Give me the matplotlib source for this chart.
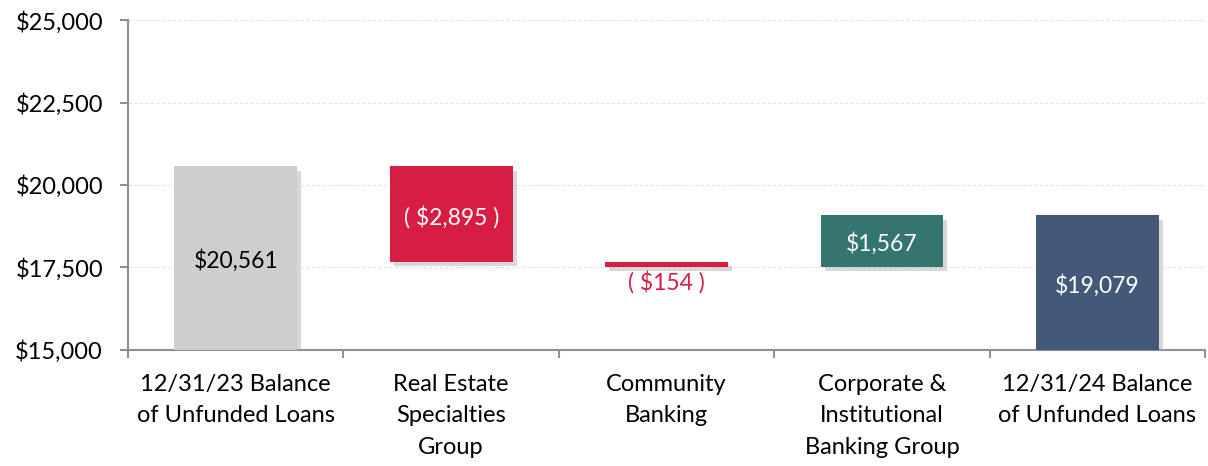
import numpy as np
import matplotlib
matplotlib.use("Agg")
import matplotlib.pyplot as plt
import matplotlib.patheffects as pe
from matplotlib.ticker import FuncFormatter

plt.rcParams["font.family"] = ["Lato", "DejaVu Sans"]

categories = ["12/31/23 Balance\nof Unfunded Loans", "Real Estate\nSpecialties\nGroup",
              "Community\nBanking", "Corporate &\nInstitutional\nBanking Group",
              "12/31/24 Balance\nof Unfunded Loans"]
start_balance = 20561
changes = [-2895, -154, 1567]
end_balance = 19079
labels = ["$20,561", "( $2,895 )", "( $154 )", "$1,567", "$19,079"]

colors = ["#cfcdce", "#d71e42", "#d71e42", "#357570", "#435977"]
label_colors = ["black", "white", "#d71e42", "white", "white"]
axis_color = "#8e9096"

# waterfall bottoms and tops
bottoms = [15000]
tops = [start_balance]
level = start_balance
for c in changes:
    new = level + c
    bottoms.append(min(level, new))
    tops.append(max(level, new))
    level = new
bottoms.append(15000)
tops.append(end_balance)
heights = np.array(tops) - np.array(bottoms)

fig = plt.figure(figsize=(12.08, 4.66), dpi=100)
ax = fig.add_axes([0.106, 0.249, 0.8915, 0.708])

x = np.arange(len(categories))
bars = ax.bar(x, heights, bottom=bottoms, width=0.57, color=colors, zorder=3)
for b in bars:
    b.set_path_effects([pe.SimplePatchShadow(offset=(3, -3), shadow_rgbFace="#aaaaaa", alpha=0.45),
                        pe.Normal()])

for i, b in enumerate(bars):
    if heights[i] < 400:
        ax.text(x[i], bottoms[i] - 100, labels[i], ha="center", va="top",
                fontsize=16.5, color=label_colors[i], zorder=4)
    else:
        ax.text(x[i], bottoms[i] + heights[i] / 2 - 80, labels[i], ha="center", va="center",
                fontsize=16.5, color=label_colors[i], zorder=4)

ax.set_ylim(15000, 25000)
ax.set_xlim(-0.5, len(categories) - 0.5)
ax.set_yticks(np.arange(15000, 25001, 2500))
ax.yaxis.set_major_formatter(FuncFormatter(lambda v, p: f"${v:,.0f}"))
ax.grid(axis="y", color="#e3e3e3", linestyle=(0, (3, 2)), linewidth=0.8, zorder=0)

ax.set_xticks(np.arange(-0.5, len(categories), 1.0))
ax.set_xticklabels([])
ax.set_xticks(x, minor=True)
ax.set_xticklabels(categories, minor=True, fontsize=17, linespacing=1.62)
ax.tick_params(axis="x", which="major", length=6, width=1.5, color=axis_color)
ax.tick_params(axis="x", which="minor", length=0, pad=17)
ax.tick_params(axis="y", length=6, width=1.5, color=axis_color, labelsize=17, pad=12)

for side in ["top", "right"]:
    ax.spines[side].set_visible(False)
for side in ["left", "bottom"]:
    ax.spines[side].set_color(axis_color)
    ax.spines[side].set_linewidth(1.5)

fig.savefig("out.png", dpi=100)
